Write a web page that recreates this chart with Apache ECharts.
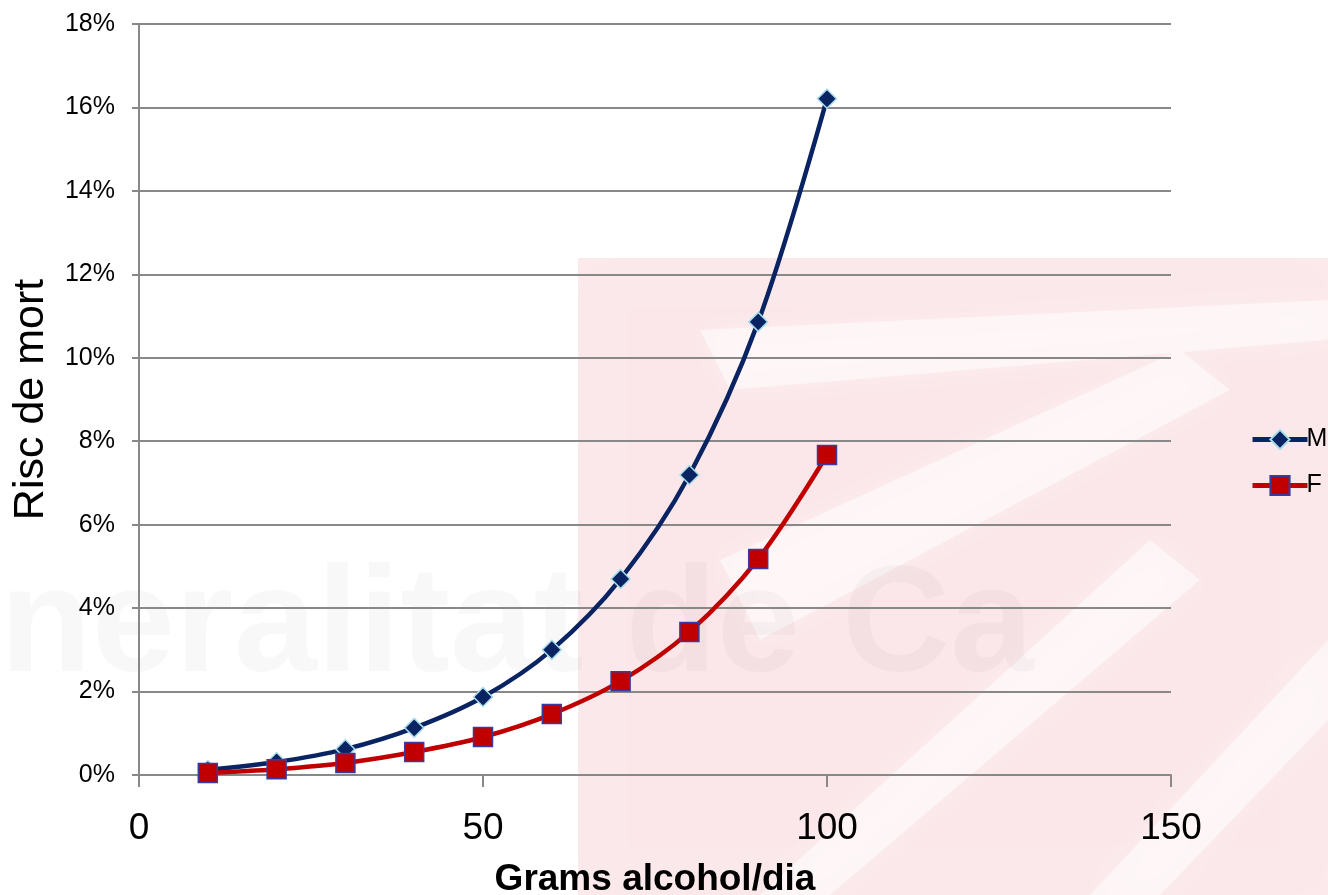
<!DOCTYPE html>
<html>
<head>
<meta charset="utf-8">
<script src="https://cdn.jsdelivr.net/npm/echarts@6/dist/echarts.min.js"></script>
<style>
  html, body { margin: 0; padding: 0; background: #fff; }
  #chart { width: 1328px; height: 895px; }
</style>
</head>
<body>
<div id="chart"></div>
<script>
// grams of alcohol per day
const grams = [10, 20, 30, 40, 50, 60, 70, 80, 90, 100]
// risk of death, in percent
const riskM = [0.12, 0.31, 0.62, 1.13, 1.87, 3.0, 4.7, 7.19, 10.86, 16.21]
const riskF = [0.05, 0.14, 0.29, 0.55, 0.91, 1.46, 2.25, 3.43, 5.18, 7.67]
const seriesNames = ['M', 'F']

const FONT = 'Liberation Sans, Arial, sans-serif'

let chart = echarts.init(document.getElementById('chart'))

// faint background watermark (logo), decorative only
let pink = 'rgba(215,20,40,0.095)'
let veil = 'rgba(255,255,255,0.5)'
let watermark = [
  {
    type: 'polygon',
    silent: true,
    z: -10,
    shape: { points: [[578, 258], [1328, 258], [1328, 895], [578, 895]] },
    style: { fill: pink, shadowBlur: 40, shadowColor: pink }
  },
  {
    type: 'polygon',
    silent: true,
    z: -9,
    shape: { points: [[700, 330], [1328, 300], [1328, 340], [730, 390]] },
    style: { fill: veil, shadowBlur: 30, shadowColor: veil }
  },
  {
    type: 'polygon',
    silent: true,
    z: -9,
    shape: { points: [[720, 560], [1180, 350], [1230, 390], [760, 640]] },
    style: { fill: veil, shadowBlur: 30, shadowColor: veil }
  },
  {
    type: 'polygon',
    silent: true,
    z: -9,
    shape: { points: [[760, 895], [1150, 540], [1200, 580], [830, 895]] },
    style: { fill: veil, shadowBlur: 30, shadowColor: veil }
  },
  {
    type: 'polygon',
    silent: true,
    z: -9,
    shape: { points: [[1090, 895], [1328, 640], [1328, 720], [1160, 895]] },
    style: { fill: veil, shadowBlur: 30, shadowColor: veil }
  },
  {
    type: 'text',
    left: 0,
    top: 555,
    silent: true,
    z: -8,
    style: {
      text: 'neralitat de Ca',
      font: 'bold 150px ' + FONT,
      fill: 'rgba(0,0,0,0.028)',
      shadowBlur: 16,
      shadowColor: 'rgba(0,0,0,0.04)'
    }
  }
]

let option = {
  backgroundColor: '#fff',
  animation: false,
  graphic: watermark,
  grid: {
    left: 139,
    right: 157,
    top: 24,
    bottom: 120,
    containLabel: false,
    outerBoundsMode: 'none'
  },
  legend: {
    orient: 'vertical',
    left: 1245,
    top: 422,
    itemWidth: 55,
    itemHeight: 24,
    itemGap: 21,
    lineStyle: { width: 5 },
    textStyle: { fontFamily: FONT, fontSize: 25, color: '#000', padding: [0, 0, 0, -6] },
    data: seriesNames
  },
  xAxis: {
    type: 'value',
    min: 0,
    max: 150,
    interval: 50,
    name: 'Grams alcohol/dia',
    nameLocation: 'middle',
    nameGap: 86,
    nameTextStyle: { fontFamily: FONT, fontSize: 37, fontWeight: 'bold', color: '#000' },
    axisLine: { show: true, onZero: false, lineStyle: { color: '#888', width: 2 } },
    axisTick: { show: true, length: 12, lineStyle: { color: '#888', width: 2 } },
    axisLabel: { fontFamily: FONT, fontSize: 37, color: '#000', margin: 35 },
    splitLine: { show: false }
  },
  yAxis: {
    type: 'value',
    min: 0,
    max: 18,
    interval: 2,
    name: 'Risc de mort',
    nameLocation: 'middle',
    nameGap: 86,
    nameTextStyle: { fontFamily: FONT, fontSize: 43, color: '#000' },
    axisLine: { show: true, lineStyle: { color: '#888', width: 2 } },
    axisTick: { show: true, length: 7, lineStyle: { color: '#888', width: 2 } },
    axisLabel: {
      fontFamily: FONT,
      fontSize: 25,
      color: '#000',
      margin: 24,
      formatter: v => v + '%'
    },
    splitLine: { show: true, lineStyle: { color: '#888', width: 2 } }
  },
  series: [
    {
      name: seriesNames[0],
      type: 'line',
      smooth: 0.35,
      data: grams.map((g, i) => [g, riskM[i]]),
      symbol: 'diamond',
      symbolSize: 19,
      lineStyle: { color: '#0a2463', width: 4.5 },
      itemStyle: { color: '#0a2463', borderColor: '#a8dde8', borderWidth: 1.5 },
      z: 3
    },
    {
      name: seriesNames[1],
      type: 'line',
      smooth: 0.35,
      data: grams.map((g, i) => [g, riskF[i]]),
      symbol: 'rect',
      symbolSize: 19,
      lineStyle: { color: '#c00000', width: 4.5 },
      itemStyle: { color: '#c00000', borderColor: '#3a3aa0', borderWidth: 1.5 },
      z: 4
    }
  ]
}

chart.setOption(option)
</script>
</body>
</html>
